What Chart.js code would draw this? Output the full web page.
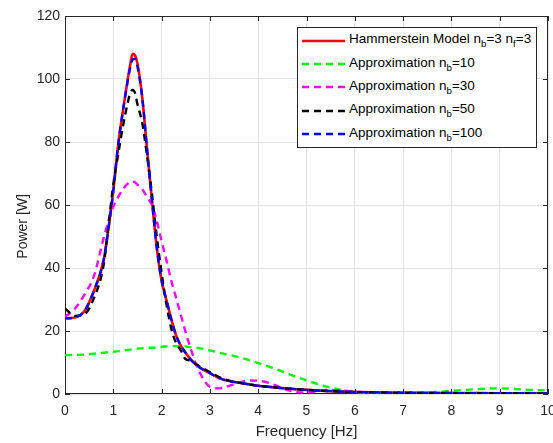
<!DOCTYPE html>
<html>
<head>
<meta charset="utf-8">
<script src="https://cdn.jsdelivr.net/npm/chart.js@4.4.0/dist/chart.umd.min.js"></script>
<style>
html,body{margin:0;padding:0;background:#fff;}
#wrap{position:relative;width:553px;height:443px;overflow:hidden;}
#legend{position:absolute;left:297px;top:27px;width:238px;height:119px;border:1px solid #262626;background:#fff;
  font-family:"Liberation Sans",Arial,Helvetica,sans-serif;font-size:13.5px;color:#000;}
.lrow{position:absolute;left:0;width:238px;height:16px;}
.lrow svg{position:absolute;left:4px;top:6px;}
.lrow span{position:absolute;left:51px;top:0;line-height:16px;white-space:nowrap;}
.lrow sub{font-size:72%;vertical-align:-4px;line-height:0;}
</style>
</head>
<body>
<div id="wrap">
<canvas id="c" width="553" height="443"></canvas>
<div id="legend"></div>
</div>
<script>
// ---- data ----
const freq = [0,0.2,0.4,0.6,0.8,0.9,1.0,1.1,1.2,1.3,1.35,1.4,1.45,1.5,1.6,1.7,1.8,1.9,2.0,2.1,2.2,2.3,2.4,2.5,2.6,2.7,2.8,3.0,3.2,3.4,3.6,3.8,4.0,4.2,4.4,4.6,4.8,5.0,5.5,6.0,6.5,7.0,7.5,8.0,8.5,9.0,9.5,10];

const hammerstein = [24.0,24.3,26.3,32.8,42.5, 52.5,64.5,79.0,90.0,100.0, 104.5,108.0,107.5,105.0,94.0, 77.5,61.5,46.5,36.0,29.8, 23.8,18.6,15.3,13.0,11.0, 9.5,8.3,6.6,5.0,4.1, 3.6,3.1,2.6,2.3,2.0, 1.75,1.5,1.3,0.9,0.65, 0.5,0.4,0.35,0.3,0.28, 0.25,0.22,0.2];

const approx10 = [12.3,12.4,12.5,12.8,13.1, 13.3,13.4,13.6,13.8,14.0, 14.1,14.2,14.3,14.4,14.5, 14.6,14.7,14.8,15.0,15.1, 15.2,15.2,15.2,15.1,14.9, 14.7,14.5,13.8,13.1,12.4, 11.7,10.8,9.8,8.8,7.7, 6.5,5.4,4.3,2.0,0.7, 0.1,0.1,0.4,1.0,1.5, 1.8,1.4,1.1];

const approx30 = [24.5,27.0,31.5,37.5,49.5, 55.0,59.5,62.5,65.0,66.8, 67.2,67.4,67.2,66.5,65.0, 62.5,60.0,55.0,48.5,42.5, 36.0,30.5,25.0,19.5,14.5, 10.0,6.5,2.3,1.8,2.6, 3.6,4.3,4.2,3.6,2.5, 1.3,0.6,0.5,1.3,0.7, 0.3,0.2,0.4,0.15,0.3, 0.2,0.3,0.2];

const approx50 = [27.2,24.8,25.3,30.5,41.0, 53.5,66.5,76.0,85.0,92.5, 95.5,96.5,95.5,92.0,86.0, 75.5,63.5,50.0,38.5,28.5, 20.8,16.2,13.8,11.0,10.6, 9.6,8.6,7.0,5.3,4.2, 3.6,3.1,2.6,2.3,2.0, 1.75,1.5,1.3,0.9,0.65, 0.5,0.4,0.35,0.3,0.28, 0.25,0.22,0.2];

const approx100 = [24.0,24.3,26.3,32.8,42.5, 52.5,64.5,79.0,90.0,99.5, 103.5,106.2,106.4,104.0,94.0, 77.5,61.5,46.5,36.0,29.8, 23.8,18.6,15.3,13.0,11.0, 9.5,8.3,6.6,5.0,4.1, 3.6,3.1,2.6,2.3,2.0, 1.75,1.5,1.3,0.9,0.65, 0.5,0.4,0.35,0.3,0.28, 0.25,0.22,0.2];

const seriesLabels = ['Hammerstein Model n_b=3 n_f=3','Approximation n_b=10','Approximation n_b=30','Approximation n_b=50','Approximation n_b=100'];
const xTickValues = [0,1,2,3,4,5,6,7,8,9,10];
const yTickValues = [0,20,40,60,80,100,120];
const xTitle = 'Frequency [Hz]';
const yTitle = 'Power [W]';

// ---- styling ----
const seriesValues = [hammerstein, approx10, approx30, approx50, approx100];
const colors = ['#ff0000','#00ff00','#ff00ff','#000000','#0000ff'];
const dashes = [[], [7,5], [7,5], [7,5], [7,5]];
const drawOrder = [5,4,3,2,1];

const datasets = seriesValues.map((vals, i) => ({
  label: seriesLabels[i],
  data: freq.map((f, k) => ({x: f, y: vals[k]})),
  borderColor: colors[i],
  backgroundColor: colors[i],
  borderWidth: i === 0 ? 2.6 : 2.4,
  borderDash: dashes[i],
  pointRadius: 0,
  fill: false,
  cubicInterpolationMode: 'monotone',
  order: drawOrder[i]
}));

const AX = '#262626';
const boxPlugin = {
  id: 'boxPlugin',
  beforeDatasetsDraw(chart) {
    const {ctx, chartArea: a, scales: {x, y}} = chart;
    ctx.save();
    ctx.strokeStyle = AX;
    ctx.lineWidth = 1;
    ctx.beginPath();
    ctx.rect(a.left + 0.5, a.top + 0.5, a.right - a.left - 1, a.bottom - a.top - 1);
    xTickValues.forEach(v => {
      const px = Math.round(x.getPixelForValue(v)) + 0.5;
      ctx.moveTo(px, a.bottom); ctx.lineTo(px, a.bottom - 5);
      ctx.moveTo(px, a.top); ctx.lineTo(px, a.top + 5);
    });
    yTickValues.forEach(v => {
      const py = Math.round(y.getPixelForValue(v)) + 0.5;
      ctx.moveTo(a.left, py); ctx.lineTo(a.left + 5, py);
      ctx.moveTo(a.right, py); ctx.lineTo(a.right - 5, py);
    });
    ctx.stroke();
    ctx.restore();
  }
};

const font = {family: '"Liberation Sans", Arial, Helvetica, sans-serif', size: 14};

new Chart(document.getElementById('c'), {
  type: 'line',
  data: {datasets},
  plugins: [boxPlugin],
  options: {
    responsive: false,
    animation: false,
    devicePixelRatio: 1,
    layout: {padding: {left: 0, right: 5, top: 16, bottom: 0}},
    plugins: {legend: {display: false}, tooltip: {enabled: false}},
    scales: {
      x: {
        type: 'linear', min: 0, max: 10,
        afterBuildTicks: s => { s.ticks = xTickValues.map(v => ({value: v})); },
        afterFit: s => { s.height = 49; s.paddingLeft = 0; s.paddingRight = 0; },
        ticks: {color: AX, font, padding: 9, maxRotation: 0, autoSkip: false},
        grid: {color: '#e3e3e3', drawTicks: false, lineWidth: 1},
        border: {display: false},
        title: {display: true, text: xTitle, color: AX, font: {family: font.family, size: 15}, padding: {top: 0, bottom: 2}}
      },
      y: {
        type: 'linear', min: 0, max: 120,
        afterBuildTicks: s => { s.ticks = yTickValues.map(v => ({value: v})); },
        afterFit: s => { s.width = 65; s.paddingTop = 0; s.paddingBottom = 0; },
        ticks: {color: AX, font, padding: 5, autoSkip: false},
        grid: {color: '#e3e3e3', drawTicks: false, lineWidth: 1},
        border: {display: false},
        title: {display: true, text: yTitle + '\u00a0\u00a0\u00a0\u00a0\u00a0\u00a0\u00a0\u00a0\u00a0\u00a0\u00a0', color: AX, font: {family: font.family, size: 14}, padding: {top: 15, bottom: 0}}
      }
    }
  }
});

// ---- legend (HTML, for subscripts) ----
const leg = document.getElementById('legend');
function toHtml(s) { return s.replace(/_([a-z0-9])/g, '<sub>$1</sub>'); }
seriesLabels.forEach((lab, i) => {
  const row = document.createElement('div');
  row.className = 'lrow';
  const cy = 12.7 + 23.35 * i;
  row.style.top = (cy - 8 - 1.5) + 'px';
  const dash = dashes[i].length ? ' stroke-dasharray="' + dashes[i].join(' ') + '"' : '';
  row.innerHTML = '<svg width="44" height="4"><line x1="0" y1="2" x2="43" y2="2" stroke="' + colors[i] + '" stroke-width="2.4"' + dash + '/></svg><span>' + toHtml(lab) + '</span>';
  row.querySelector('svg').style.top = (8 + 1.5 - 2) + 'px';
  leg.appendChild(row);
});
</script>
</body>
</html>
